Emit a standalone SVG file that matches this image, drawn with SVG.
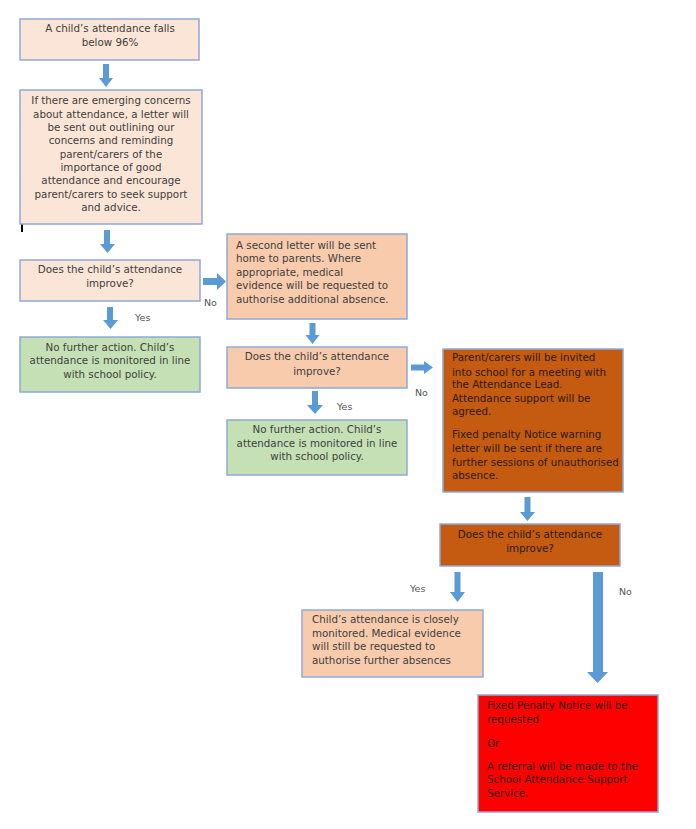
<svg xmlns="http://www.w3.org/2000/svg" width="696" height="829" viewBox="0 0 696 829">
<style>
.box{stroke:#8EA9D8;stroke-width:1.5}
.p1{fill:#FBE5D6}
.p2{fill:#F8CBAD}
.g{fill:#C5E0B4}
.o{fill:#C55A11}
.r{fill:#FF0000}
text{font-family:"DejaVu Sans","Liberation Sans",Arial,sans-serif;font-size:10.3px;fill:#404040}
.c{text-anchor:middle}
.d{fill:#2a1a10}
.lbl{font-size:9.5px;fill:#555}
.arr{fill:#5B9BD5}
</style>
<rect width="696" height="829" fill="#fff"/>
<g id="connectors">
<polygon class="arr" points="103,64 109,64 109,78 113,78 106,87 99,78 103,78"/>
<polygon class="arr" points="104,230 110,230 110,244 115,244 107.5,253 100,244 104,244"/>
<polygon class="arr" points="203,278 217,278 217,273 226,281.5 217,290 217,285 203,285"/>
<text class="lbl" x="204" y="306">No</text>
<polygon class="arr" points="107,307 113,307 113,320 118,320 110.5,329 103,320 107,320"/>
<text class="lbl" x="135" y="321">Yes</text>
<polygon class="arr" points="309.5,323 315.5,323 315.5,335 319.5,335 312.5,344 305.5,335 309.5,335"/>
<polygon class="arr" points="411,364.5 424,364.5 424,361 433,367.5 424,374 424,370.5 411,370.5"/>
<text class="lbl" x="415" y="396">No</text>
<polygon class="arr" points="312,391 318,391 318,405 323,405 315,414 307,405 312,405"/>
<text class="lbl" x="337" y="410">Yes</text>
<polygon class="arr" points="524.5,497 530.5,497 530.5,512 535,512 527.5,521 520,512 524.5,512"/>
<polygon class="arr" points="454.5,572 460.5,572 460.5,592 465,592 457.5,602 450,592 454.5,592"/>
<text class="lbl" x="410" y="592">Yes</text>
<polygon class="arr" points="593,572 603,572 603,672 608,672 597.5,683 587,672 593,672"/>
<text class="lbl" x="619" y="595">No</text>
</g>
<rect x="21" y="214" width="2" height="18" fill="#000"/>
<g id="n1">
<rect class="box p1" x="20" y="19" width="179" height="41"/>
<text class="c" x="110" y="31.5">A child’s attendance falls</text>
<text class="c" x="110" y="45.5">below 96%</text>
</g>
<g id="n2">
<rect class="box p1" x="20" y="90" width="182" height="134"/>
<text class="c" x="111" y="104">If there are emerging concerns</text>
<text class="c" x="111" y="117.5">about attendance, a letter will</text>
<text class="c" x="111" y="131">be sent out outlining our</text>
<text class="c" x="111" y="144">concerns and reminding</text>
<text class="c" x="111" y="157.5">parent/carers of the</text>
<text class="c" x="111" y="171">importance of good</text>
<text class="c" x="111" y="184">attendance and encourage</text>
<text class="c" x="111" y="197.5">parent/carers to seek support</text>
<text class="c" x="111" y="211">and advice.</text>
</g>
<g id="n3">
<rect class="box p1" x="20" y="260" width="180" height="41"/>
<text class="c" x="110" y="273">Does the child’s attendance</text>
<text class="c" x="110" y="287">improve?</text>
</g>
<g id="n4">
<rect class="box g" x="20" y="337" width="180" height="55"/>
<text class="c" x="110" y="351">No further action. Child’s</text>
<text class="c" x="110" y="364">attendance is monitored in line</text>
<text class="c" x="110" y="377.5">with school policy.</text>
</g>
<g id="n5">
<rect class="box p2" x="227" y="234" width="180" height="85"/>
<text x="236" y="249">A second letter will be sent</text>
<text x="236" y="262">home to parents. Where</text>
<text x="236" y="275.5">appropriate, medical</text>
<text x="236" y="289">evidence will be requested to</text>
<text x="236" y="303">authorise additional absence.</text>
</g>
<g id="n6">
<rect class="box p2" x="227" y="347" width="180" height="41"/>
<text class="c" x="317" y="360">Does the child’s attendance</text>
<text class="c" x="317" y="375">improve?</text>
</g>
<g id="n7">
<rect class="box g" x="227" y="420" width="180" height="55"/>
<text class="c" x="317" y="433">No further action. Child’s</text>
<text class="c" x="317" y="447">attendance is monitored in line</text>
<text class="c" x="317" y="460">with school policy.</text>
</g>
<g id="n8">
<rect class="box o" x="443" y="349" width="180" height="143"/>
<text class="d" x="452" y="361">Parent/carers will be invited</text>
<text class="d" x="452" y="375.5">into school for a meeting with</text>
<text class="d" x="452" y="388">the Attendance Lead.</text>
<text class="d" x="452" y="402">Attendance support will be</text>
<text class="d" x="452" y="415">agreed.</text>
<text class="d" x="452" y="438">Fixed penalty Notice warning</text>
<text class="d" x="452" y="452">letter will be sent if there are</text>
<text class="d" x="452" y="465.5">further sessions of unauthorised</text>
<text class="d" x="452" y="479">absence.</text>
</g>
<g id="n9">
<rect class="box o" x="440" y="524" width="180" height="42"/>
<text class="c d" x="530" y="538">Does the child’s attendance</text>
<text class="c d" x="530" y="552">improve?</text>
</g>
<g id="n10">
<rect class="box p2" x="302" y="610" width="181" height="67"/>
<text x="312" y="623">Child’s attendance is closely</text>
<text x="312" y="637">monitored. Medical evidence</text>
<text x="312" y="650">will still be requested to</text>
<text x="312" y="664">authorise further absences</text>
</g>
<g id="n11">
<rect class="box r" x="478" y="695" width="180" height="117"/>
<text class="d" x="487" y="709">Fixed Penalty Notice will be</text>
<text class="d" x="487" y="722.5">requested</text>
<text class="d" x="487" y="747">Or</text>
<text class="d" x="487" y="770">A referral will be made to the</text>
<text class="d" x="487" y="783">School Attendance Support</text>
<text class="d" x="487" y="796.5">Service.</text>
</g>
</svg>
